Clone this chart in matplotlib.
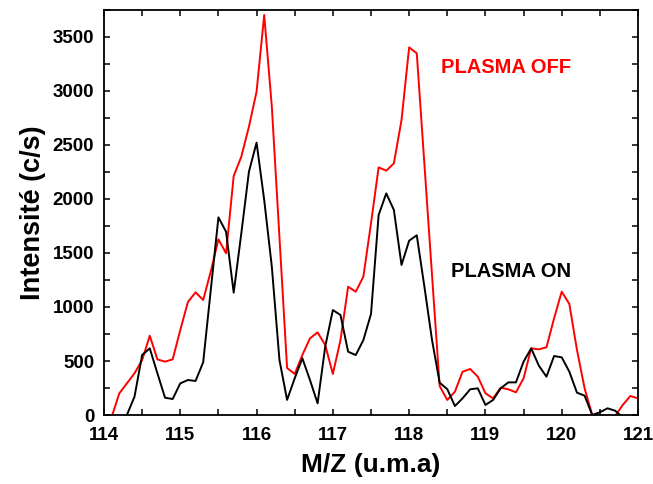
import matplotlib
matplotlib.use("Agg")
import matplotlib.pyplot as plt
from matplotlib.ticker import MultipleLocator

plt.rcParams['font.family'] = ['Liberation Sans', 'DejaVu Sans']
plt.rcParams['font.weight'] = 'bold'

mz = [114.0, 114.1, 114.2, 114.3, 114.4, 114.5, 114.6, 114.7, 114.8, 114.9,
      115.0, 115.1, 115.2, 115.3, 115.4, 115.5, 115.6, 115.7, 115.8, 115.9,
      116.0, 116.1, 116.2, 116.3, 116.4, 116.5, 116.6, 116.7, 116.8, 116.9,
      117.0, 117.1, 117.2, 117.3, 117.4, 117.5, 117.6, 117.7, 117.8, 117.9,
      118.0, 118.1, 118.2, 118.3, 118.4, 118.5, 118.6, 118.7, 118.8, 118.9,
      119.0, 119.1, 119.2, 119.3, 119.4, 119.5, 119.6, 119.7, 119.8, 119.9,
      120.0, 120.1, 120.2, 120.3, 120.4, 120.5, 120.6, 120.7, 120.8, 120.9,
      121.0]

plasma_off = [-300, -20, 200, 293, 386, 509, 734, 515, 494, 515,
              787, 1046, 1136, 1065, 1330, 1627, 1497, 2213, 2392, 2670,
              2994, 3704, 2855, 1645, 435, 380, 555, 710, 765, 648,
              380, 694, 1188, 1142, 1281, 1775, 2293, 2262, 2330, 2731,
              3404, 3349, 2322, 1295, 268, 139, 216, 401, 426, 355,
              201, 154, 253, 238, 210, 340, 617, 608, 627, 895,
              1142, 1028, 602, 247, 0, -30, -30, -10, 93, 176,
              154]

plasma_on = [-600, -400, -200, 0, 170, 556, 617, 386, 160, 148,
             293, 324, 315, 488, 1160, 1830, 1697, 1133, 1682, 2253,
             2522, 1991, 1373, 509, 140, 340, 525, 324, 108, 633,
             972, 926, 586, 555, 694, 935, 1852, 2052, 1898, 1389,
             1614, 1664, 1188, 694, 299, 239, 83, 154, 238, 247,
             93, 139, 247, 302, 302, 494, 617, 457, 355, 546,
             534, 401, 207, 179, 0, 25, 62, 40, -20, -200,
             -300]

x_ticks = [114, 115, 116, 117, 118, 119, 120, 121]
y_ticks = [0, 500, 1000, 1500, 2000, 2500, 3000, 3500]

fig = plt.figure(figsize=(6.53, 4.84), dpi=100)
ax = fig.add_axes([104/653, 1 - 415/484, (638-104)/653, (415-10)/484])

ax.plot(mz, plasma_off, color='#ff0000', lw=1.4)
ax.plot(mz, plasma_on, color='black', lw=1.4)

ax.set_xlim(114, 121)
ax.set_ylim(0, 3750)
ax.set_xticks(x_ticks)
ax.set_yticks(y_ticks)
ax.xaxis.set_minor_locator(MultipleLocator(0.5))
ax.yaxis.set_minor_locator(MultipleLocator(250))
ax.tick_params(which='both', direction='in', top=True, right=True,
               length=4.5, width=1.1, labelsize=13.5)
ax.tick_params(axis='x', which='both', pad=8.5)
ax.tick_params(axis='y', which='both', pad=7)
for lab in ax.get_xticklabels() + ax.get_yticklabels():
    lab.set_fontweight('bold')
for s in ax.spines.values():
    s.set_linewidth(1.3)

ax.set_xlabel('M/Z (u.m.a)', fontsize=19, fontweight='bold', labelpad=6.5)
ax.set_ylabel('Intensité (c/s)', fontsize=19.5, fontweight='bold', labelpad=5)

ax.annotate('PLASMA OFF', xy=(571/653, 1 - 67.5/484), xycoords='figure fraction',
            ha='right', va='center', color='#ff0000', fontsize=14.5, fontweight='bold')
ax.annotate('PLASMA ON', xy=(571/653, 1 - 271.5/484), xycoords='figure fraction',
            ha='right', va='center', color='black', fontsize=14.5, fontweight='bold')

fig.savefig('out.png', dpi=100)
